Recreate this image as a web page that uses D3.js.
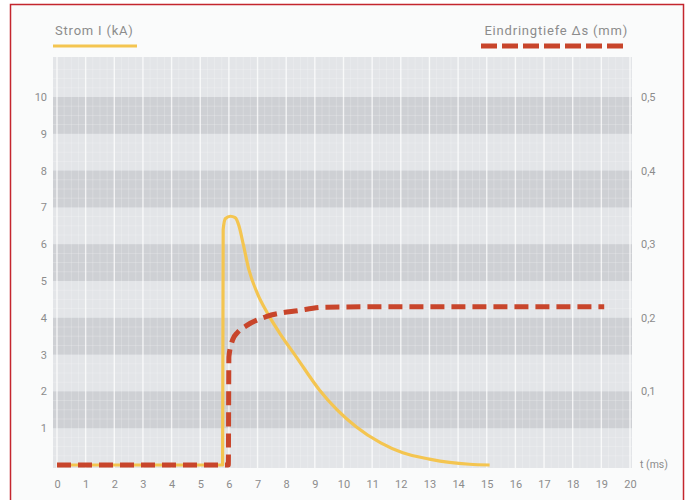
<!DOCTYPE html>
<html><head><meta charset="utf-8">
<script src="https://cdn.jsdelivr.net/npm/d3@7"></script>
<style>
html,body{margin:0;padding:0;background:#fff;}
text{font-family:Roboto,"Liberation Sans",sans-serif;}
</style>
</head><body>
<svg id="c" width="689" height="500"></svg>
<script>
// ---- data ----
const xTicks = d3.range(0, 21);                 // t (ms)
const yLeftTicks = [1,2,3,4,5,6,7,8,9,10];      // Strom I (kA)
const yRightTicks = [0.1,0.2,0.3,0.4,0.5];      // Eindringtiefe (mm)
const yRightLabels = ["0,1","0,2","0,3","0,4","0,5"];
const darkBands = [[1,2],[3,4],[5,6],[7,8],[9,10]];
// current I (kA) vs time (ms)
const currentT = [0, 5.78, 5.8, 5.88, 6.05, 6.22, 6.35, 6.5, 6.7, 7.0, 7.35, 7.8, 8.35, 9.16, 10.44, 11.3, 12.07, 13.0, 13.7, 14.4, 15.1];
const currentI = [0, 0, 6.4, 6.7, 6.76, 6.72, 6.5, 6.0, 5.3, 4.65, 4.12, 3.55, 2.94, 2.04, 1.04, 0.6, 0.33, 0.16, 0.07, 0.02, 0];
// penetration depth (mm) vs time (ms)
const depthT = [0, 5.98, 6.0, 6.13, 6.3, 6.6, 7.3, 8.46, 9.4, 12, 19.1];
const depthS = [0, 0, 0.147, 0.17, 0.18, 0.189, 0.2015, 0.21, 0.2145, 0.215, 0.215];

const svg = d3.select("#c");
const grey = "#8c8c8c";
const yellow = "#f4c550";
const red = "#c8452b";

// frame
svg.append("rect").attr("x",10.5).attr("y",4.5).attr("width",673).attr("height",505)
  .attr("fill","#fafbfb").attr("stroke","#c4262e").attr("stroke-width",1.5);

const x = d3.scaleLinear().domain([0,20]).range([57,630]);
const y = d3.scaleLinear().domain([0,10]).range([465,97]);
const yR = d3.scaleLinear().domain([0,0.5]).range([465,97]);

const plotL = 53, plotR = 632, plotT = 57, plotB = 468;

// plot background
svg.append("rect").attr("x",plotL).attr("y",plotT).attr("width",plotR-plotL).attr("height",plotB-plotT)
  .attr("fill","#e3e5e8");
svg.append("g").selectAll("rect").data(darkBands).join("rect")
  .attr("x",plotL).attr("width",plotR-plotL)
  .attr("y",d=>y(d[1])).attr("height",d=>y(d[0])-y(d[1]))
  .attr("fill","#ced0d4");

// minor grid
const minorX = d3.range(-0.25, 20.1, 0.25).filter(v=>Math.abs(v-Math.round(v))>0.01);
svg.append("g").selectAll("line").data(minorX).join("line")
  .attr("x1",d=>x(d)).attr("x2",d=>x(d)).attr("y1",plotT).attr("y2",plotB)
  .attr("stroke","#fff").attr("stroke-opacity",0.3).attr("stroke-width",0.7);
const minorY = d3.range(0, 11.1, 0.25).filter(v=>Math.abs(v-Math.round(v))>0.01);
svg.append("g").selectAll("line").data(minorY).join("line")
  .attr("y1",d=>y(d)).attr("y2",d=>y(d)).attr("x1",plotL).attr("x2",plotR)
  .attr("stroke","#fff").attr("stroke-opacity",0.3).attr("stroke-width",0.7);
// major vertical grid
svg.append("g").selectAll("line").data(xTicks).join("line")
  .attr("x1",d=>x(d)).attr("x2",d=>x(d)).attr("y1",plotT).attr("y2",plotB)
  .attr("stroke","#fff").attr("stroke-opacity",0.75).attr("stroke-width",1.4);

// axes labels
const xAxis = d3.axisBottom(x).tickValues(xTicks).tickSize(0).tickPadding(0);
const gx = svg.append("g").attr("transform",`translate(0,${plotB+12})`).call(xAxis);
gx.select(".domain").remove();
gx.selectAll("text").attr("fill",grey).attr("font-size",11).attr("dy","0.71em");

const yAxisL = d3.axisLeft(y).tickValues(yLeftTicks).tickSize(0).tickPadding(0);
const gyl = svg.append("g").attr("transform","translate(47,0)").call(yAxisL);
gyl.select(".domain").remove();
gyl.selectAll("text").attr("fill",grey).attr("font-size",11);

const yAxisR = d3.axisRight(yR).tickValues(yRightTicks).tickFormat((d,i)=>yRightLabels[i]).tickSize(0).tickPadding(0);
const gyr = svg.append("g").attr("transform","translate(641,0)").call(yAxisR);
gyr.select(".domain").remove();
gyr.selectAll("text").attr("fill",grey).attr("font-size",11);

svg.append("text").attr("x",640).attr("y",y(0)).attr("dy","0.32em")
  .attr("fill",grey).attr("font-size",10.5).text("t (ms)");

// curves
const currentData = currentT.map((t,i)=>[t,currentI[i]]);
const depthData = depthT.map((t,i)=>[t,depthS[i]]);

svg.append("path").datum(currentData)
  .attr("d", d3.line().x(d=>x(d[0])).y(d=>y(d[1])).curve(d3.curveMonotoneX))
  .attr("fill","none").attr("stroke",yellow).attr("stroke-width",3.2).attr("stroke-linejoin","round");

svg.append("path").datum(depthData)
  .attr("d", d3.line().x(d=>x(d[0])).y(d=>yR(d[1])).curve(d3.curveMonotoneX))
  .attr("fill","none").attr("stroke",red).attr("stroke-width",5)
  .attr("stroke-dasharray","14,7").attr("stroke-linejoin","round");

// legend
svg.append("text").attr("x",55).attr("y",35).attr("fill",grey).attr("font-size",13)
  .attr("letter-spacing",0.8).text("Strom I (kA)");
svg.append("line").attr("x1",53).attr("x2",137).attr("y1",46).attr("y2",46)
  .attr("stroke",yellow).attr("stroke-width",3);
svg.append("text").attr("x",628).attr("y",35).attr("text-anchor","end").attr("fill",grey)
  .attr("font-size",13).attr("letter-spacing",0.8).text("Eindringtiefe Δs (mm)");
svg.append("line").attr("x1",481).attr("x2",628).attr("y1",46).attr("y2",46)
  .attr("stroke",red).attr("stroke-width",5).attr("stroke-dasharray","16,5");
</script>
</body></html>
